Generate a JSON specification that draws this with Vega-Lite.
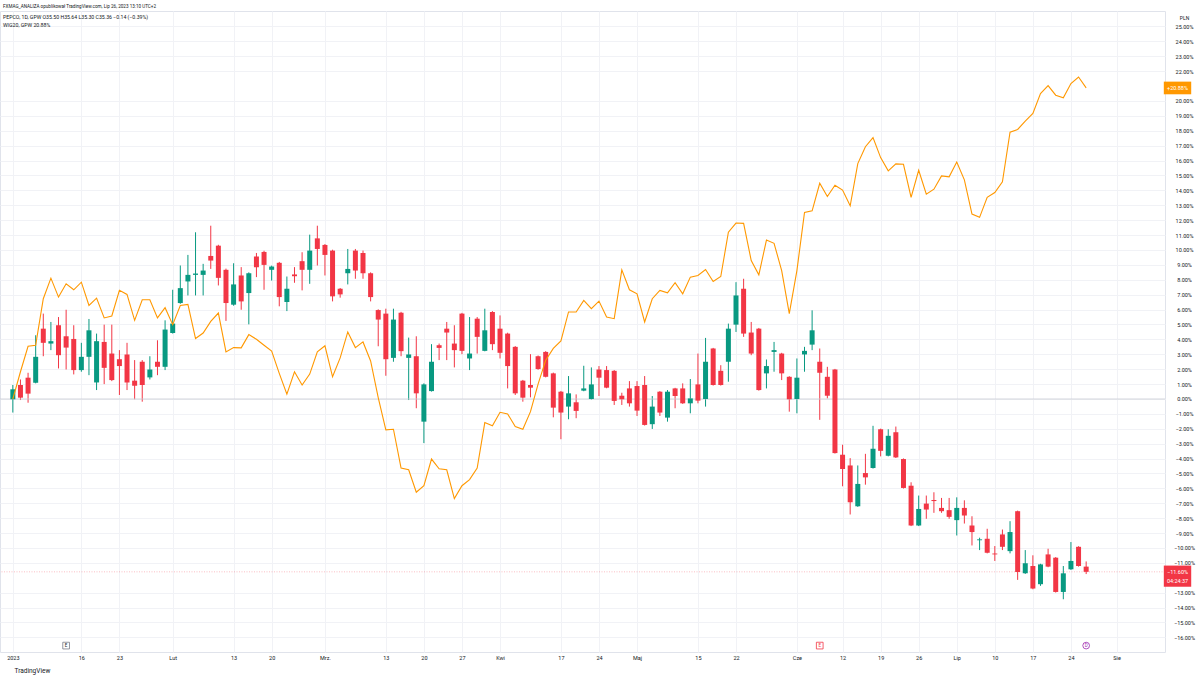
{
  "$schema": "https://vega.github.io/schema/vega-lite/v6.json",
  "width": 1165,
  "height": 641,
  "autosize": {"type": "none"},
  "padding": {"left": 0, "top": 11, "right": 35, "bottom": 27},
  "background": "white",
  "config": {"view": {"stroke": "#e0e3eb", "strokeWidth": 1}, "font": "Roboto"},
  "title": {
    "text": "FXMAG_ANALIZA opublikował TradingView.com, Lip 26, 2023 13:10 UTC+2",
    "subtitle": ["PEPCO, 1D, GPW   O35.50  H35.64  L35.30  C35.36  −0.14 (−0.39%)", "WIG20, GPW   20.88%"],
    "anchor": "start", "frame": "group", "orient": "top", "offset": -17, "dx": 3,
    "fontSize": 4.6, "fontWeight": "normal", "color": "#131722", "font": "Roboto",
    "subtitleFontSize": 5.2, "subtitleColor": "#131722", "subtitleFont": "Roboto", "subtitlePadding": 6, "subtitleLineHeight": 8
  },
  "datasets": {
    "p": [
      {"d":"2023-01-02","t":0,"o":-0.02,"h":0.94,"l":-0.91,"c":0.65,"w":0.0},
      {"d":"2023-01-03","t":1,"o":0.94,"h":1.31,"l":-0.07,"c":0.09,"w":1.83},
      {"d":"2023-01-04","t":2,"o":1.43,"h":1.76,"l":-0.25,"c":0.36,"w":3.54},
      {"d":"2023-01-05","t":3,"o":1.09,"h":4.28,"l":1.05,"c":2.83,"w":3.61},
      {"d":"2023-01-09","t":4,"o":4.72,"h":5.73,"l":2.87,"c":3.77,"w":6.73},
      {"d":"2023-01-10","t":5,"o":3.72,"h":5.17,"l":3.28,"c":3.88,"w":8.11},
      {"d":"2023-01-11","t":6,"o":4.95,"h":5.5,"l":2.05,"c":2.94,"w":6.84},
      {"d":"2023-01-12","t":7,"o":4.21,"h":5.99,"l":1.98,"c":3.45,"w":7.73},
      {"d":"2023-01-13","t":8,"o":4.03,"h":4.95,"l":1.65,"c":1.94,"w":7.33},
      {"d":"2023-01-16","t":9,"o":1.94,"h":3.77,"l":1.83,"c":2.83,"w":7.84},
      {"d":"2023-01-17","t":10,"o":2.83,"h":5.37,"l":1.6,"c":4.61,"w":6.28},
      {"d":"2023-01-18","t":11,"o":1.11,"h":4.39,"l":0.6,"c":3.88,"w":6.77},
      {"d":"2023-01-19","t":12,"o":3.83,"h":4.99,"l":1.0,"c":2.09,"w":5.44},
      {"d":"2023-01-20","t":13,"o":3.05,"h":4.99,"l":1.2,"c":1.27,"w":5.57},
      {"d":"2023-01-23","t":14,"o":2.67,"h":3.28,"l":0.27,"c":2.21,"w":7.29},
      {"d":"2023-01-24","t":15,"o":2.99,"h":3.77,"l":0.6,"c":1.11,"w":7.02},
      {"d":"2023-01-25","t":16,"o":1.23,"h":2.61,"l":-0.02,"c":0.89,"w":5.28},
      {"d":"2023-01-26","t":17,"o":2.5,"h":2.61,"l":-0.18,"c":0.94,"w":6.66},
      {"d":"2023-01-27","t":18,"o":1.45,"h":2.87,"l":1.31,"c":1.98,"w":6.66},
      {"d":"2023-01-30","t":19,"o":2.5,"h":3.94,"l":1.6,"c":2.16,"w":5.44},
      {"d":"2023-01-31","t":20,"o":2.16,"h":5.28,"l":1.94,"c":4.66,"w":6.13},
      {"d":"2023-02-01","t":21,"o":4.43,"h":7.33,"l":4.39,"c":5.06,"w":4.99},
      {"d":"2023-02-02","t":22,"o":6.44,"h":8.96,"l":6.39,"c":7.44,"w":6.28},
      {"d":"2023-02-03","t":23,"o":7.89,"h":9.67,"l":6.95,"c":8.33,"w":6.35},
      {"d":"2023-02-06","t":24,"o":8.33,"h":11.19,"l":6.95,"c":8.42,"w":4.06},
      {"d":"2023-02-07","t":25,"o":8.33,"h":9.07,"l":6.95,"c":8.62,"w":4.43},
      {"d":"2023-02-08","t":26,"o":9.6,"h":11.63,"l":8.73,"c":9.29,"w":5.21},
      {"d":"2023-02-09","t":27,"o":10.29,"h":10.35,"l":7.62,"c":8.13,"w":5.77},
      {"d":"2023-02-10","t":28,"o":8.67,"h":8.75,"l":5.24,"c":6.44,"w":3.16},
      {"d":"2023-02-13","t":29,"o":6.33,"h":9.11,"l":6.26,"c":7.69,"w":3.45},
      {"d":"2023-02-14","t":30,"o":8.29,"h":8.85,"l":5.99,"c":6.55,"w":3.43},
      {"d":"2023-02-15","t":31,"o":7.11,"h":8.5,"l":5.01,"c":8.44,"w":4.32},
      {"d":"2023-02-16","t":32,"o":9.56,"h":9.8,"l":8.18,"c":8.85,"w":4.01},
      {"d":"2023-02-17","t":33,"o":9.87,"h":9.95,"l":7.33,"c":9.0,"w":3.61},
      {"d":"2023-02-20","t":34,"o":8.67,"h":8.95,"l":7.95,"c":8.89,"w":3.21},
      {"d":"2023-02-21","t":35,"o":9.14,"h":9.2,"l":6.22,"c":6.84,"w":1.72},
      {"d":"2023-02-22","t":36,"o":6.51,"h":8.22,"l":5.9,"c":7.4,"w":0.33},
      {"d":"2023-02-23","t":37,"o":8.36,"h":8.85,"l":7.8,"c":8.24,"w":1.83},
      {"d":"2023-02-24","t":38,"o":9.25,"h":9.85,"l":7.29,"c":8.67,"w":0.94},
      {"d":"2023-02-27","t":39,"o":8.67,"h":11.03,"l":7.73,"c":9.96,"w":1.67},
      {"d":"2023-02-28","t":40,"o":10.78,"h":11.63,"l":8.96,"c":10.07,"w":3.16},
      {"d":"2023-03-01","t":41,"o":10.34,"h":10.4,"l":8.29,"c":9.67,"w":3.57},
      {"d":"2023-03-02","t":42,"o":9.96,"h":10.02,"l":6.55,"c":6.89,"w":1.49},
      {"d":"2023-03-03","t":43,"o":7.4,"h":7.45,"l":6.8,"c":7.02,"w":2.76},
      {"d":"2023-03-06","t":44,"o":8.44,"h":10.07,"l":7.69,"c":8.73,"w":4.5},
      {"d":"2023-03-07","t":45,"o":9.96,"h":10.07,"l":8.07,"c":8.62,"w":3.45},
      {"d":"2023-03-08","t":46,"o":9.8,"h":9.96,"l":8.07,"c":8.44,"w":3.83},
      {"d":"2023-03-09","t":47,"o":8.44,"h":8.5,"l":6.55,"c":6.84,"w":2.55},
      {"d":"2023-03-10","t":48,"o":5.97,"h":6.02,"l":3.54,"c":5.33,"w":0.1},
      {"d":"2023-03-13","t":49,"o":5.73,"h":6.06,"l":1.56,"c":2.67,"w":-2.07},
      {"d":"2023-03-14","t":50,"o":2.76,"h":6.06,"l":2.5,"c":5.33,"w":-2.03},
      {"d":"2023-03-15","t":51,"o":5.79,"h":5.85,"l":2.87,"c":3.21,"w":-4.63},
      {"d":"2023-03-16","t":52,"o":2.76,"h":4.12,"l":-0.07,"c":2.99,"w":-4.75},
      {"d":"2023-03-17","t":53,"o":2.87,"h":4.21,"l":-0.62,"c":0.38,"w":-6.26},
      {"d":"2023-03-20","t":54,"o":-1.52,"h":1.05,"l":-2.96,"c":0.98,"w":-5.82},
      {"d":"2023-03-21","t":55,"o":0.53,"h":3.68,"l":0.5,"c":2.5,"w":-4.03},
      {"d":"2023-03-22","t":56,"o":3.61,"h":3.72,"l":2.61,"c":3.43,"w":-4.68},
      {"d":"2023-03-23","t":57,"o":4.72,"h":5.17,"l":2.61,"c":4.46,"w":-4.75},
      {"d":"2023-03-24","t":58,"o":3.72,"h":4.95,"l":2.12,"c":3.28,"w":-6.68},
      {"d":"2023-03-27","t":59,"o":5.73,"h":5.78,"l":3.01,"c":3.23,"w":-5.82},
      {"d":"2023-03-28","t":60,"o":2.72,"h":5.5,"l":1.94,"c":3.05,"w":-5.41},
      {"d":"2023-03-29","t":61,"o":5.39,"h":5.5,"l":3.05,"c":4.17,"w":-4.63},
      {"d":"2023-03-30","t":62,"o":3.23,"h":6.06,"l":3.2,"c":4.61,"w":-1.58},
      {"d":"2023-03-31","t":63,"o":5.84,"h":5.9,"l":3.28,"c":3.68,"w":-1.8},
      {"d":"2023-04-03","t":64,"o":4.72,"h":5.61,"l":2.72,"c":3.1,"w":-0.89},
      {"d":"2023-04-04","t":65,"o":4.39,"h":4.45,"l":0.71,"c":2.21,"w":-1.0},
      {"d":"2023-04-05","t":66,"o":3.5,"h":3.55,"l":0.27,"c":0.38,"w":-1.85},
      {"d":"2023-04-06","t":67,"o":1.23,"h":1.28,"l":-0.18,"c":0.09,"w":-2.03},
      {"d":"2023-04-11","t":68,"o":0.94,"h":3.01,"l":0.11,"c":0.76,"w":-0.85},
      {"d":"2023-04-12","t":69,"o":2.87,"h":2.92,"l":1.96,"c":2.01,"w":1.0},
      {"d":"2023-04-13","t":70,"o":3.16,"h":3.21,"l":1.45,"c":1.49,"w":2.6},
      {"d":"2023-04-14","t":71,"o":1.72,"h":1.77,"l":-1.23,"c":-0.58,"w":3.4},
      {"d":"2023-04-17","t":72,"o":0.49,"h":0.54,"l":-2.7,"c":-0.91,"w":3.9},
      {"d":"2023-04-18","t":73,"o":-0.51,"h":1.54,"l":-1.36,"c":0.38,"w":5.84},
      {"d":"2023-04-19","t":74,"o":-0.22,"h":0.31,"l":-1.29,"c":-0.8,"w":5.84},
      {"d":"2023-04-20","t":75,"o":0.56,"h":2.23,"l":0.52,"c":0.71,"w":6.62},
      {"d":"2023-04-21","t":76,"o":0.0,"h":2.12,"l":-0.04,"c":0.98,"w":6.06},
      {"d":"2023-04-24","t":77,"o":1.98,"h":2.21,"l":0.2,"c":1.43,"w":6.57},
      {"d":"2023-04-25","t":78,"o":1.94,"h":2.21,"l":0.72,"c":0.76,"w":5.5},
      {"d":"2023-04-26","t":79,"o":1.89,"h":1.94,"l":-0.4,"c":-0.13,"w":5.39},
      {"d":"2023-04-27","t":80,"o":0.22,"h":0.42,"l":-0.4,"c":-0.02,"w":8.67},
      {"d":"2023-04-28","t":81,"o":0.71,"h":1.2,"l":-0.51,"c":-0.29,"w":7.33},
      {"d":"2023-05-02","t":82,"o":0.87,"h":1.2,"l":-1.14,"c":-0.78,"w":7.06},
      {"d":"2023-05-04","t":83,"o":0.94,"h":1.54,"l":-1.78,"c":-1.74,"w":5.17},
      {"d":"2023-05-05","t":84,"o":-1.69,"h":0.2,"l":-2.01,"c":-0.51,"w":6.73},
      {"d":"2023-05-08","t":85,"o":0.49,"h":0.53,"l":-1.14,"c":-0.91,"w":7.29},
      {"d":"2023-05-09","t":86,"o":-1.25,"h":0.6,"l":-1.52,"c":0.49,"w":7.13},
      {"d":"2023-05-10","t":87,"o":0.71,"h":0.75,"l":-0.62,"c":0.2,"w":7.8},
      {"d":"2023-05-11","t":88,"o":0.71,"h":1.05,"l":-0.33,"c":-0.29,"w":7.06},
      {"d":"2023-05-12","t":89,"o":-0.29,"h":1.34,"l":-0.96,"c":0.04,"w":8.18},
      {"d":"2023-05-15","t":90,"o":0.98,"h":3.05,"l":-0.29,"c":-0.11,"w":8.29},
      {"d":"2023-05-16","t":91,"o":0.0,"h":4.1,"l":-0.51,"c":2.5,"w":8.69},
      {"d":"2023-05-17","t":92,"o":3.39,"h":3.43,"l":0.9,"c":0.94,"w":7.89},
      {"d":"2023-05-18","t":93,"o":1.89,"h":2.27,"l":0.9,"c":0.94,"w":8.22},
      {"d":"2023-05-19","t":94,"o":2.5,"h":5.06,"l":1.16,"c":4.72,"w":11.2},
      {"d":"2023-05-22","t":95,"o":4.99,"h":7.84,"l":4.5,"c":6.95,"w":11.81},
      {"d":"2023-05-23","t":96,"o":7.4,"h":8.07,"l":4.17,"c":4.39,"w":11.79},
      {"d":"2023-05-24","t":97,"o":4.46,"h":5.17,"l":2.94,"c":3.05,"w":9.29},
      {"d":"2023-05-25","t":98,"o":4.72,"h":4.77,"l":0.56,"c":0.6,"w":8.33},
      {"d":"2023-05-26","t":99,"o":1.72,"h":2.65,"l":0.71,"c":2.21,"w":10.67},
      {"d":"2023-05-29","t":100,"o":3.16,"h":3.83,"l":1.83,"c":3.28,"w":10.45},
      {"d":"2023-05-30","t":101,"o":3.05,"h":3.1,"l":1.27,"c":1.72,"w":8.62},
      {"d":"2023-05-31","t":102,"o":1.49,"h":1.53,"l":-0.85,"c":-0.02,"w":5.73},
      {"d":"2023-06-01","t":103,"o":0.0,"h":2.72,"l":-0.96,"c":1.43,"w":8.62},
      {"d":"2023-06-02","t":104,"o":2.99,"h":3.5,"l":1.83,"c":3.23,"w":12.52},
      {"d":"2023-06-05","t":105,"o":3.65,"h":5.95,"l":3.28,"c":4.61,"w":12.63},
      {"d":"2023-06-06","t":106,"o":2.5,"h":3.39,"l":-1.4,"c":1.76,"w":14.48},
      {"d":"2023-06-07","t":107,"o":1.49,"h":2.16,"l":0.04,"c":0.22,"w":13.59},
      {"d":"2023-06-09","t":108,"o":1.98,"h":2.02,"l":-3.66,"c":-3.63,"w":14.35},
      {"d":"2023-06-12","t":109,"o":-3.74,"h":-3.07,"l":-5.86,"c":-4.7,"w":14.02},
      {"d":"2023-06-13","t":110,"o":-4.46,"h":-3.97,"l":-7.75,"c":-6.93,"w":12.97},
      {"d":"2023-06-14","t":111,"o":-7.2,"h":-4.46,"l":-7.24,"c":-5.7,"w":15.8},
      {"d":"2023-06-15","t":112,"o":-4.97,"h":-3.68,"l":-5.75,"c":-5.26,"w":16.93},
      {"d":"2023-06-16","t":113,"o":-4.63,"h":-1.8,"l":-4.67,"c":-3.34,"w":17.54},
      {"d":"2023-06-19","t":114,"o":-2.03,"h":-1.99,"l":-3.85,"c":-3.48,"w":16.2},
      {"d":"2023-06-20","t":115,"o":-3.81,"h":-2.03,"l":-3.85,"c":-2.47,"w":15.31},
      {"d":"2023-06-21","t":116,"o":-2.23,"h":-1.85,"l":-3.96,"c":-3.92,"w":15.78},
      {"d":"2023-06-22","t":117,"o":-4.03,"h":-3.99,"l":-6.01,"c":-5.97,"w":15.75},
      {"d":"2023-06-23","t":118,"o":-5.82,"h":-5.59,"l":-8.53,"c":-8.49,"w":13.53},
      {"d":"2023-06-26","t":119,"o":-8.49,"h":-6.48,"l":-8.53,"c":-7.38,"w":15.35},
      {"d":"2023-06-27","t":120,"o":-7.02,"h":-6.48,"l":-8.04,"c":-7.42,"w":13.75},
      {"d":"2023-06-28","t":121,"o":-6.78,"h":-6.26,"l":-7.64,"c":-6.85,"w":14.08},
      {"d":"2023-06-29","t":122,"o":-7.31,"h":-6.64,"l":-7.64,"c":-7.53,"w":14.97},
      {"d":"2023-06-30","t":123,"o":-7.46,"h":-6.64,"l":-8.04,"c":-7.91,"w":14.91},
      {"d":"2023-07-03","t":124,"o":-8.13,"h":-6.6,"l":-9.16,"c":-7.31,"w":15.91},
      {"d":"2023-07-04","t":125,"o":-7.31,"h":-6.8,"l":-8.36,"c":-7.82,"w":14.71},
      {"d":"2023-07-05","t":126,"o":-8.49,"h":-7.87,"l":-9.83,"c":-8.93,"w":12.41},
      {"d":"2023-07-06","t":127,"o":-9.48,"h":-9.31,"l":-10.14,"c":-9.42,"w":12.19},
      {"d":"2023-07-07","t":128,"o":-9.38,"h":-8.71,"l":-10.36,"c":-10.32,"w":13.53},
      {"d":"2023-07-10","t":129,"o":-10.37,"h":-9.87,"l":-10.87,"c":-10.43,"w":13.86},
      {"d":"2023-07-11","t":130,"o":-9.09,"h":-8.76,"l":-10.14,"c":-9.92,"w":14.57},
      {"d":"2023-07-12","t":131,"o":-10.21,"h":-8.2,"l":-10.36,"c":-8.93,"w":17.91},
      {"d":"2023-07-13","t":132,"o":-7.53,"h":-7.49,"l":-12.14,"c":-11.61,"w":18.09},
      {"d":"2023-07-14","t":133,"o":-11.7,"h":-10.14,"l":-11.74,"c":-11.03,"w":18.65},
      {"d":"2023-07-17","t":134,"o":-11.21,"h":-10.49,"l":-12.77,"c":-12.72,"w":19.16},
      {"d":"2023-07-18","t":135,"o":-12.43,"h":-11.06,"l":-12.54,"c":-11.1,"w":20.5},
      {"d":"2023-07-19","t":136,"o":-10.43,"h":-10.05,"l":-11.29,"c":-11.25,"w":21.03},
      {"d":"2023-07-20","t":137,"o":-10.65,"h":-10.61,"l":-12.99,"c":-12.95,"w":20.39},
      {"d":"2023-07-21","t":138,"o":-12.95,"h":-11.21,"l":-13.44,"c":-11.7,"w":20.21},
      {"d":"2023-07-24","t":139,"o":-11.43,"h":-9.6,"l":-11.47,"c":-10.87,"w":21.17},
      {"d":"2023-07-25","t":140,"o":-9.92,"h":-9.88,"l":-11.25,"c":-11.21,"w":21.61},
      {"d":"2023-07-26","t":141,"o":-11.25,"h":-10.9,"l":-11.75,"c":-11.6,"w":20.88}
    ],
    "ev": [
      {"t": 7, "kind": "earnings", "sym": "E"},
      {"t": 106, "kind": "earnings-miss", "sym": "E"},
      {"t": 141, "kind": "dividend", "sym": "D"}
    ]
  },
  "layer": [
    {
      "data": {"name": "p"},
      "mark": {"type": "rule", "strokeWidth": 1},
      "encoding": {
        "x": {"field": "t", "type": "quantitative", "scale": {"domain": [-1.03, 150.7], "nice": false, "zero": false},
          "axis": {"values": [0,9,14,21,29,34,41,49,54,59,64,72,77,82,90,95,103,109,114,119,124,129,134,139,145], "tickCount": 500,
            "labelExpr": "['2023','16','23','Lut','13','20','Mrz.','13','20','27','Kwi','17','24','Maj','15','22','Cze','12','19','26','Lip','10','17','24','Sie'][indexof([0,9,14,21,29,34,41,49,54,59,64,72,77,82,90,95,103,109,114,119,124,129,134,139,145], datum.value)]",
            "title": "TradingView", "titleX": 14, "titleY": 18, "titleAlign": "left", "titleAnchor": "start", "titleBaseline": "middle",
            "titleFontSize": 6.5, "titleFontWeight": "normal", "titleColor": "#131722", "titleFont": "Roboto",
            "labelFontSize": 5.5, "labelColor": "#131722", "labelFont": "Roboto", "labelPadding": 3, "ticks": false, "tickSize": 0, "domain": false,
            "grid": true, "gridColor": "#f1f2f6", "gridWidth": 1, "labelFlush": false, "labelOverlap": false, "labelBound": false}},
        "y": {"field": "l", "type": "quantitative", "scale": {"domain": [-16.98, 26.04], "nice": false, "zero": false},
          "axis": {"orient": "right", "values": [25,24,23,22,20,19,18,17,16,15,14,13,12,11,10,9,8,7,6,5,4,3,2,1,0,-1,-2,-3,-4,-5,-6,-7,-8,-9,-10,-11,-13,-14,-15,-16], "tickCount": 500,
            "labelExpr": "format(datum.value, '.2f') + '%'", "labelAlign": "center", "labelPadding": 19, "labelFontSize": 5.5, "labelColor": "#131722", "labelFont": "Roboto",
            "ticks": false, "tickSize": 0, "domain": false, "grid": true, "gridColor": "#f1f2f6", "gridWidth": 1, "labelFlush": false, "labelOverlap": false, "labelBound": false,
            "title": "PLN", "titleAngle": 0, "titleX": 19, "titleY": 6, "titleAlign": "center", "titleBaseline": "middle", "titleFontSize": 5, "titleFontWeight": "normal", "titleColor": "#131722", "titleFont": "Roboto"}},
        "y2": {"field": "h"},
        "color": {"condition": {"test": "datum.c >= datum.o", "value": "#089981"}, "value": "#f23645"}
      }
    },
    {
      "data": {"values": [{}]},
      "mark": {"type": "rule", "stroke": "#c9ccd4", "strokeWidth": 0.8},
      "encoding": {"y": {"datum": 0, "type": "quantitative"}}
    },
    {
      "data": {"values": [{}]},
      "mark": {"type": "rule", "stroke": "#f23645", "strokeOpacity": 0.4, "strokeWidth": 0.8, "strokeDash": [1, 1.5]},
      "encoding": {"y": {"datum": -11.6, "type": "quantitative"}}
    },
    {
      "data": {"name": "p"},
      "mark": {"type": "bar", "width": 5},
      "encoding": {
        "x": {"field": "t", "type": "quantitative"},
        "y": {"field": "o", "type": "quantitative"},
        "y2": {"field": "c"},
        "color": {"condition": {"test": "datum.c >= datum.o", "value": "#089981"}, "value": "#f23645"}
      }
    },
    {
      "data": {"name": "p"},
      "mark": {"type": "line", "stroke": "#ff9800", "strokeWidth": 1.1},
      "encoding": {
        "x": {"field": "t", "type": "quantitative"},
        "y": {"field": "w", "type": "quantitative"}
      }
    },
    {
      "data": {"name": "ev"},
      "mark": {"type": "point", "filled": false, "fill": "white", "strokeWidth": 0.8, "size": 45, "opacity": 1},
      "encoding": {
        "x": {"field": "t", "type": "quantitative"},
        "y": {"datum": -16.55, "type": "quantitative"},
        "shape": {"field": "kind", "type": "nominal", "scale": {"domain": ["earnings", "earnings-miss", "dividend"], "range": ["square", "square", "circle"]}, "legend": null},
        "stroke": {"field": "kind", "type": "nominal", "scale": {"domain": ["earnings", "earnings-miss", "dividend"], "range": ["#787b86", "#f23645", "#9c27b0"]}, "legend": null}
      }
    },
    {
      "data": {"name": "ev"},
      "mark": {"type": "text", "fontSize": 4.5, "font": "Roboto", "baseline": "middle", "align": "center"},
      "encoding": {
        "x": {"field": "t", "type": "quantitative"},
        "y": {"datum": -16.55, "type": "quantitative"},
        "text": {"field": "sym"},
        "color": {"field": "kind", "type": "nominal", "scale": {"domain": ["earnings", "earnings-miss", "dividend"], "range": ["#131722", "#f23645", "#9c27b0"]}, "legend": null}
      }
    },
    {
      "data": {"values": [{}]},
      "mark": {"type": "rect", "fill": "#ff9800"},
      "encoding": {
        "x": {"datum": 151.2, "type": "quantitative"},
        "x2": {"datum": 154.8},
        "y": {"datum": 21.3, "type": "quantitative"},
        "y2": {"datum": 20.45}
      }
    },
    {
      "data": {"values": [{}]},
      "mark": {"type": "text", "fill": "white", "fontSize": 5.5, "font": "Roboto", "align": "center", "baseline": "middle"},
      "encoding": {
        "x": {"datum": 153, "type": "quantitative"},
        "y": {"datum": 20.88, "type": "quantitative"},
        "text": {"value": "+20.88%"}
      }
    },
    {
      "data": {"values": [{}]},
      "mark": {"type": "rect", "fill": "#f23645"},
      "encoding": {
        "x": {"datum": 151.2, "type": "quantitative"},
        "x2": {"datum": 154.8},
        "y": {"datum": -11.18, "type": "quantitative"},
        "y2": {"datum": -12.6}
      }
    },
    {
      "data": {"values": [{"v": -11.6, "s": "−11.60%"}, {"v": -12.2, "s": "04:24:37"}]},
      "mark": {"type": "text", "fill": "white", "fontSize": 5.5, "font": "Roboto", "align": "center", "baseline": "middle"},
      "encoding": {
        "x": {"datum": 153, "type": "quantitative"},
        "y": {"field": "v", "type": "quantitative"},
        "text": {"field": "s"}
      }
    }
  ]
}
